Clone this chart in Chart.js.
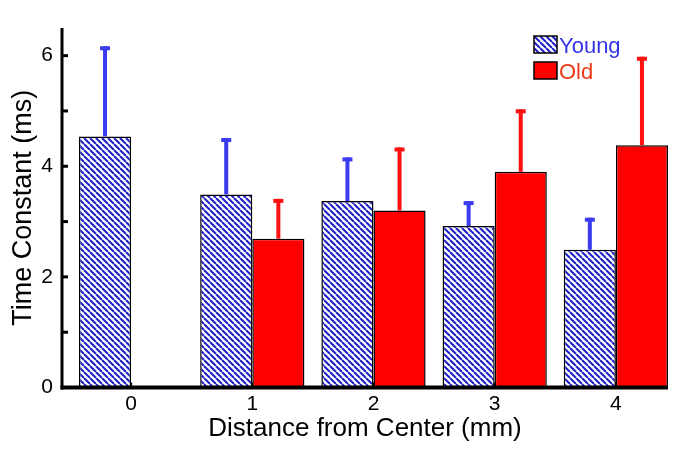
<!DOCTYPE html>
<html>
<head>
<meta charset="utf-8">
<script src="https://cdn.jsdelivr.net/npm/chart.js@4.4.1/dist/chart.umd.min.js"></script>
<style>
  html, body { margin: 0; padding: 0; background: #fff; }
  #wrap { width: 688px; height: 454px; position: relative; }
</style>
</head>
<body>
<div id="wrap"><canvas id="c"></canvas></div>
<script>
// Data
const distances = [0, 1, 2, 3, 4];
const youngMean = [4.54, 3.49, 3.37, 2.92, 2.49];
const youngSD   = [1.63, 1.02, 0.79, 0.45, 0.58];
const oldMean   = [null, 2.69, 3.20, 3.90, 4.38];
const oldSD     = [null, 0.72, 1.14, 1.13, 1.60];
const xTicks = [0, 1, 2, 3, 4];
const yTicks = [0, 1, 2, 3, 4, 5, 6];
const yLabels = ['0', '', '2', '', '4', '', '6'];

const FONT = 'Arial, "Liberation Sans", sans-serif';
const canvas = document.getElementById('c');
const ctx0 = canvas.getContext('2d');

// blue "\" hatch on white
function makeHatch() {
  const t = document.createElement('canvas');
  t.width = 6; t.height = 6;
  const g = t.getContext('2d');
  g.fillStyle = '#fff';
  g.fillRect(0, 0, 6, 6);
  g.strokeStyle = '#1e1ec8';
  g.lineWidth = 2;
  g.beginPath();
  [-6, 0, 6].forEach((k) => { g.moveTo(k, 0); g.lineTo(k + 6, 6); });
  g.stroke();
  return ctx0.createPattern(t, 'repeat');
}
const hatch = makeHatch();

const frame = {
  id: 'frame',
  afterDatasetsDraw(chart) {
    const { ctx, chartArea: a, scales: { x, y } } = chart;
    ctx.save();

    // error bars (upper only)
    chart.data.datasets.forEach((ds, i) => {
      const meta = chart.getDatasetMeta(i);
      meta.data.forEach((bar, j) => {
        const sd = ds.sd[j];
        const v = ds.data[j].y;
        if (sd == null || v == null) return;
        const top = y.getPixelForValue(v + sd);
        ctx.fillStyle = ds.errColor;
        ctx.fillRect(bar.x - 2, top, 4, bar.y - top);
        ctx.fillRect(bar.x - 5, top, 10, 4);
      });
    });

    // axis lines
    ctx.strokeStyle = '#000';
    ctx.lineWidth = 3;
    ctx.beginPath();
    ctx.moveTo(a.left, a.top);
    ctx.lineTo(a.left, a.bottom + 2);
    ctx.stroke();
    ctx.lineWidth = 4;
    ctx.beginPath();
    ctx.moveTo(a.left - 1.5, a.bottom);
    ctx.lineTo(a.right, a.bottom);
    ctx.stroke();

    // inward ticks
    ctx.fillStyle = '#000';
    yTicks.forEach((v) => {
      if (v === 0) return;
      const py = y.getPixelForValue(v);
      ctx.fillRect(a.left, py - 1.5, 6, 3);
    });
    xTicks.forEach((v) => {
      const px = x.getPixelForValue(v);
      ctx.fillRect(px - 1, a.bottom - 5, 2, 5);
    });

    // legend
    const lx = a.right - 134, ly = a.top + 8;
    ctx.lineWidth = 1.5;
    ctx.strokeStyle = '#000';
    ctx.fillStyle = hatch;
    ctx.fillRect(lx, ly, 23, 17);
    ctx.strokeRect(lx, ly, 23, 17);
    ctx.fillStyle = '#ff0000';
    ctx.fillRect(lx, ly + 26, 23, 17);
    ctx.strokeRect(lx, ly + 26, 23, 17);
    ctx.font = '22px ' + FONT;
    ctx.textBaseline = 'alphabetic';
    ctx.fillStyle = '#3434e6';
    ctx.fillText('Young', lx + 25, ly + 17);
    ctx.fillStyle = '#ee3a14';
    ctx.fillText('Old', lx + 25, ly + 43);

    ctx.restore();
  },
};

new Chart(canvas, {
  type: 'bar',
  data: {
    datasets: [
      {
        label: 'Young',
        data: distances.map((d, i) => ({ x: d, y: youngMean[i] })),
        sd: youngSD,
        errColor: '#3b3bf0',
        backgroundColor: hatch,
        borderColor: '#000',
        borderWidth: 1.5,
      },
      {
        label: 'Old',
        data: distances.map((d, i) => ({ x: d, y: oldMean[i] })),
        sd: oldSD,
        errColor: '#ff1010',
        backgroundColor: '#ff0000',
        borderColor: '#000',
        borderWidth: 1.5,
      },
    ],
  },
  options: {
    responsive: true, maintainAspectRatio: false, animation: false,
    layout: { padding: { top: 28, right: 20, left: 0, bottom: 0 } },
    categoryPercentage: 0.86, barPercentage: 1,
    plugins: { legend: { display: false }, tooltip: { enabled: false } },
    scales: {
      x: {
        type: 'linear', min: -0.57, max: 4.43, offset: false,
        afterBuildTicks: (s) => { s.ticks = xTicks.map((v) => ({ value: v })); },
        afterFit: (s) => { s.height = 66.5; },
        grid: { display: false, drawTicks: false, offset: false },
        border: { display: false },
        ticks: { color: '#000', font: { family: FONT, size: 21 }, padding: 4 },
        title: { display: true, text: 'Distance from Center (mm)', color: '#000', font: { family: FONT, size: 26 }, padding: { top: 4, bottom: 10 } },
      },
      y: {
        min: 0, max: 6.5,
        afterBuildTicks: (s) => { s.ticks = yTicks.map((v) => ({ value: v })); },
        afterFit: (s) => { s.width = 62; },
        grid: { display: false, drawTicks: false },
        border: { display: false },
        ticks: { color: '#000', font: { family: FONT, size: 21 }, padding: 9, callback: (v, i) => yLabels[i] },
        title: { display: true, text: 'Time Constant (ms)', color: '#000', font: { family: FONT, size: 27 }, padding: { top: 7, bottom: 4 } },
      },
    },
  },
  plugins: [frame],
});
</script>
</body>
</html>
